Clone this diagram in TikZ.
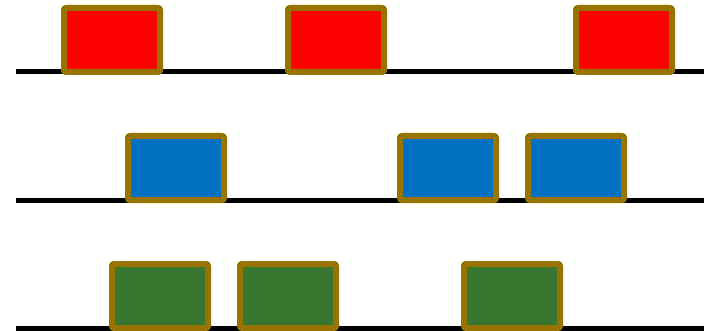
\documentclass[tikz,border=0pt]{standalone}
\usetikzlibrary{positioning}

\definecolor{slotedge}{RGB}{153,115,0}
\definecolor{slotred}{RGB}{255,0,0}
\definecolor{slotblue}{RGB}{0,112,192}
\definecolor{slotgreen}{RGB}{55,118,46}

\begin{document}
\begin{tikzpicture}[
  x=1pt, y=-1pt,
  slot/.style={draw=slotedge, line width=6pt, rounded corners=2pt, minimum width=96pt, minimum height=64pt, inner sep=0pt},
  rail/.style={line width=5pt, black}
]
\useasboundingbox (0,0) rectangle (708,331);

% Rails
\draw[rail] (16,72) -- (704,72);
\draw[rail] (16,200) -- (704,200);
\draw[rail] (16,328) -- (704,328);

% Top row
\node[slot, fill=slotred] (r1) at (112,40) {};
\node[slot, fill=slotred] (r2) at (336,40) {};
\node[slot, fill=slotred] (r3) at (624,40) {};

% Middle row
\node[slot, fill=slotblue] (b1) at (176,168) {};
\node[slot, fill=slotblue] (b2) at (448,168) {};
\node[slot, fill=slotblue] (b3) at (576,168) {};

% Bottom row
\node[slot, fill=slotgreen] (g1) at (160,296) {};
\node[slot, fill=slotgreen] (g2) at (288,296) {};
\node[slot, fill=slotgreen] (g3) at (512,296) {};

\end{tikzpicture}
\end{document}
